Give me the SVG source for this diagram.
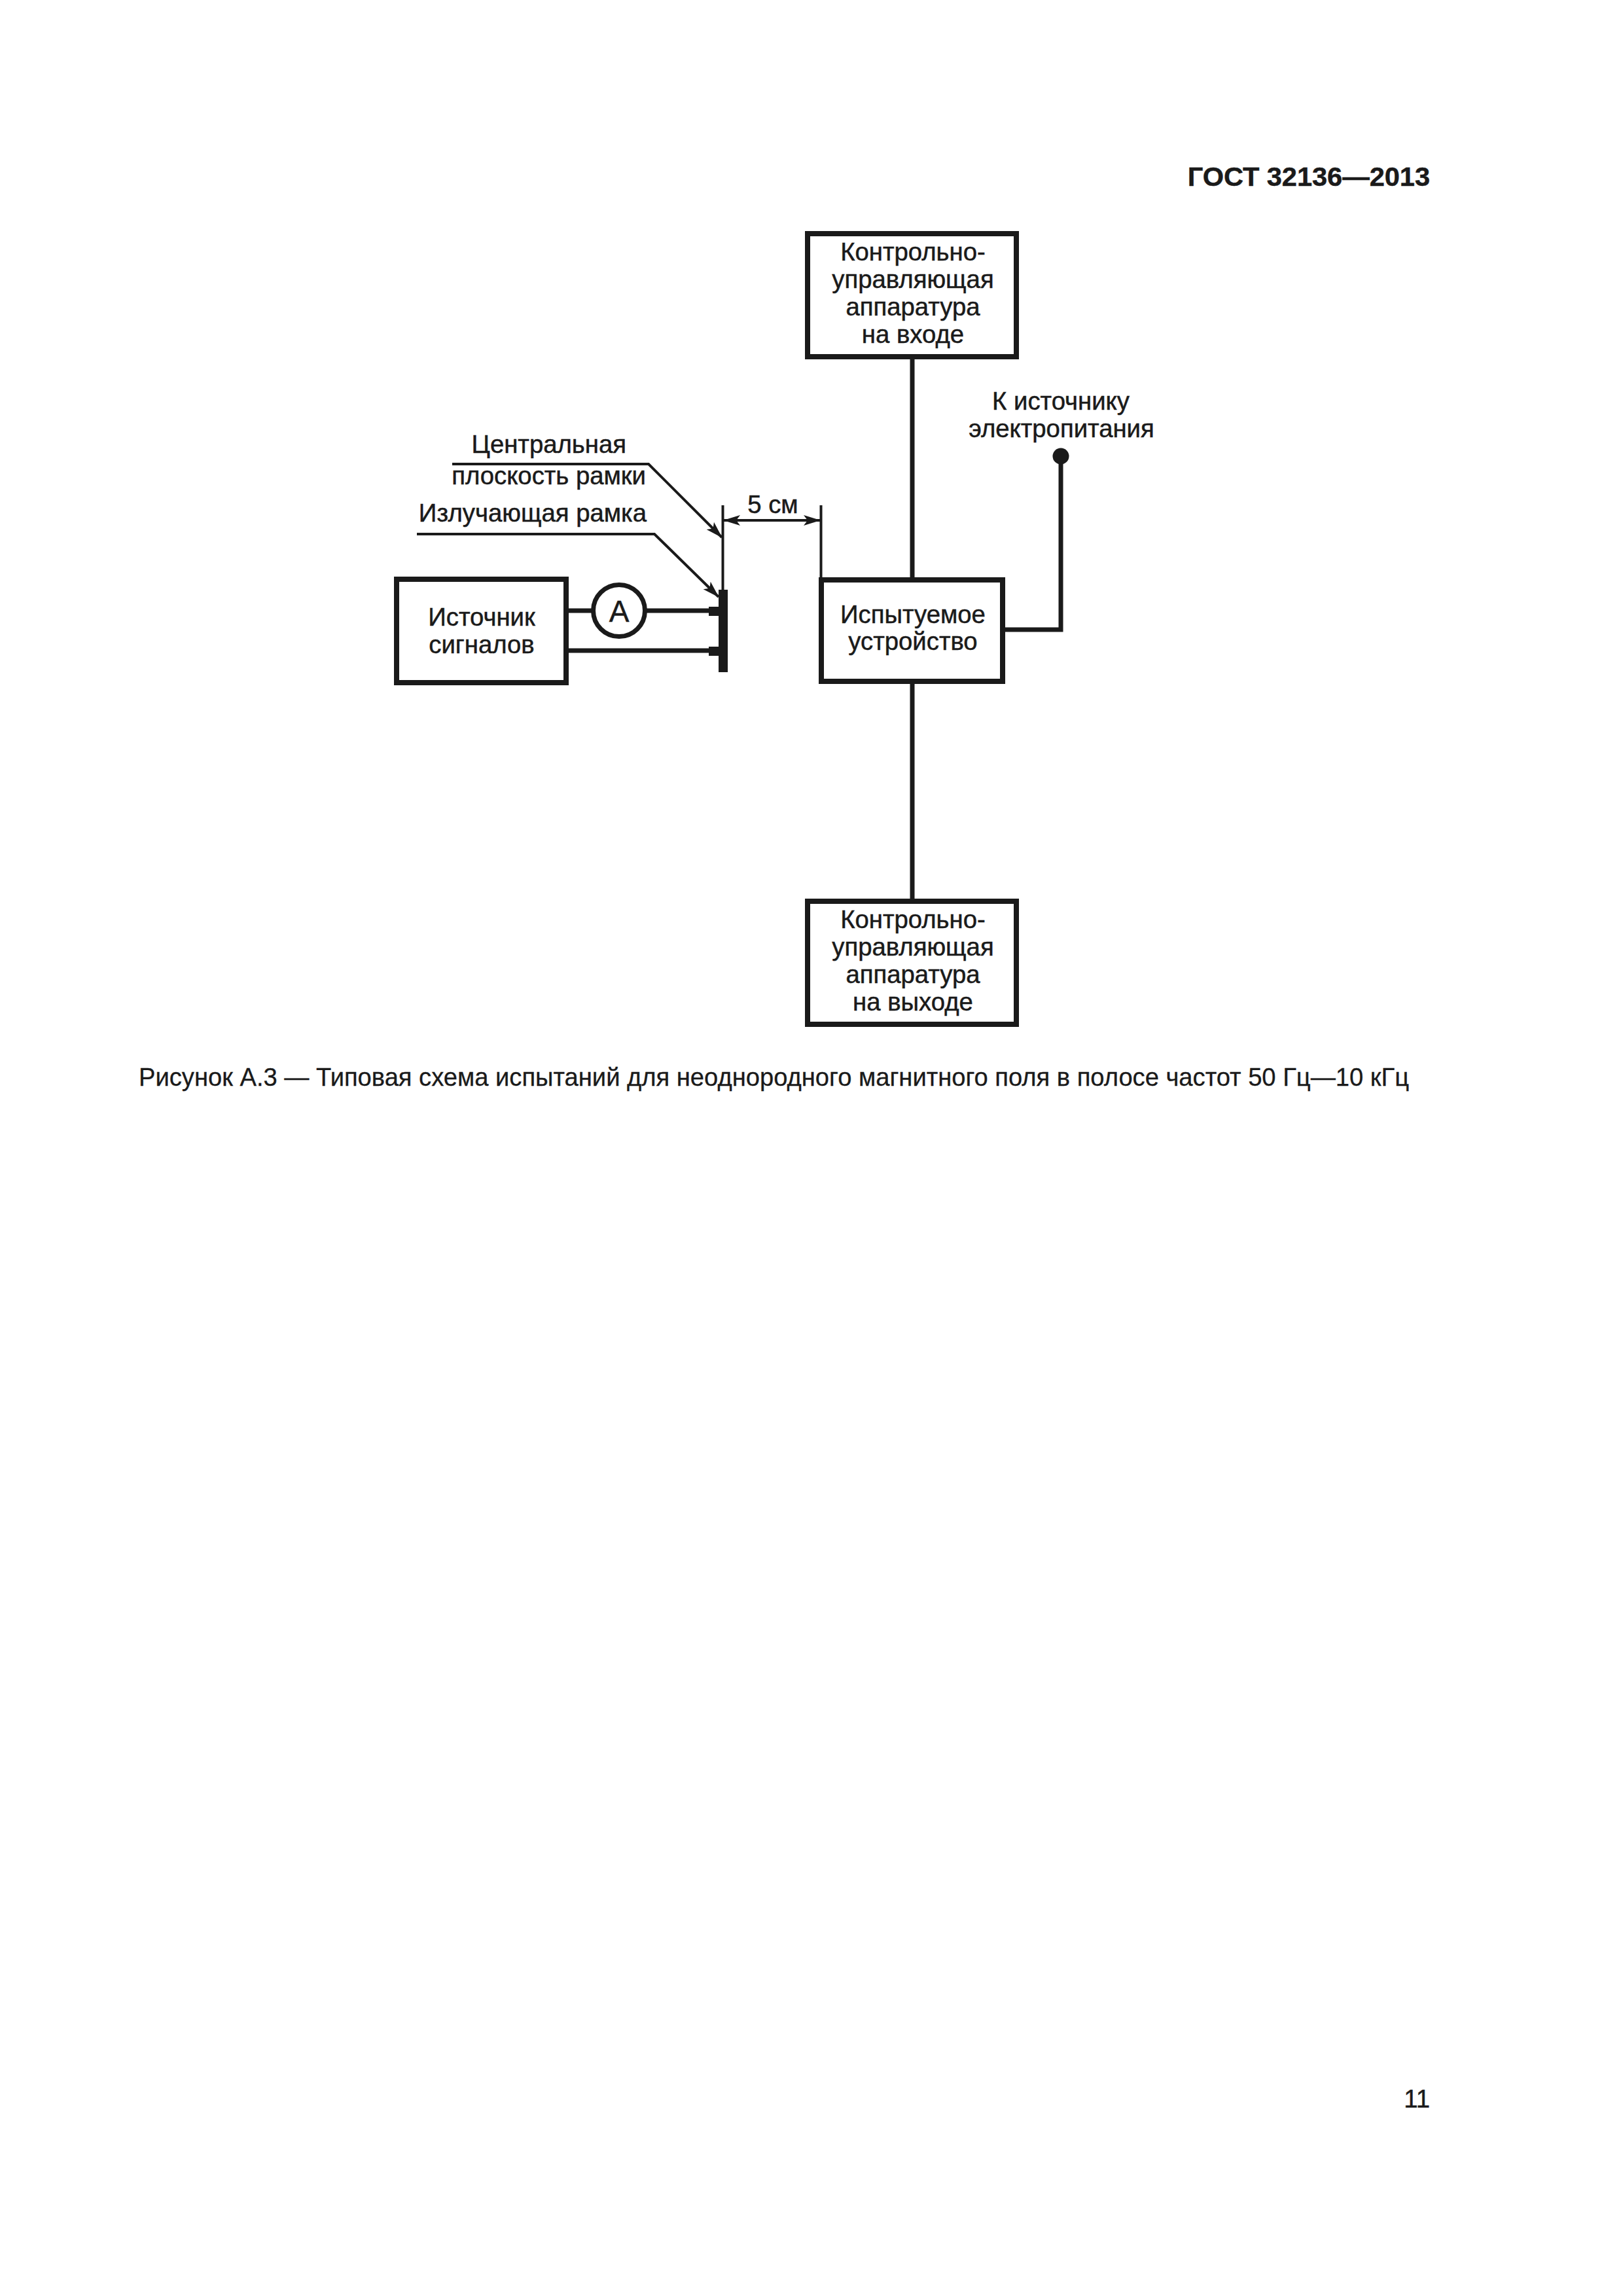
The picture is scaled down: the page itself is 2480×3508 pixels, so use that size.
<svg xmlns="http://www.w3.org/2000/svg" width="2480" height="3508" viewBox="0 0 2480 3508">
<style>
text{font-family:"Liberation Sans",Arial,sans-serif;fill:#1a1a1a;font-size:38.300px;stroke:#1a1a1a;stroke-width:.5}
.c{text-anchor:middle}.e{text-anchor:end}
.box{fill:#fff;stroke:#1a1a1a;stroke-width:8}
.w{fill:none;stroke:#1a1a1a;stroke-width:7}
.t{fill:none;stroke:#1a1a1a;stroke-width:4}
.k{fill:#1a1a1a}
</style>
<defs>
<marker id="a" markerUnits="userSpaceOnUse" markerWidth="26" markerHeight="18" refX="25" refY="9" orient="auto-start-reverse"><path d="M0 1L26 9L0 17L6 9Z" fill="#1a1a1a"/></marker>
</defs>
<rect width="2480" height="3508" fill="#fff"/>
<text x="2185" y="284" class="e" style="font-weight:bold;font-size:41.500px">ГОСТ 32136—2013</text>
<g id="connectors">
<path class="w" d="M1394 549V886M1394 1045V1377M1532 962H1621V697"/>
<path class="w" d="M869 933H1098M869 994H1098"/>
<path class="t" d="M1104.500 772V905M1254.500 772V884"/>
<path class="t" d="M1106 795H1253" marker-start="url(#a)" marker-end="url(#a)"/>
<path class="t" d="M691 709H991L1103 821" marker-end="url(#a)"/>
<path class="t" d="M637 816H1000L1098 912" marker-end="url(#a)"/>
</g>
<g id="source"><rect class="box" x="606" y="885" width="259" height="158"/>
<text x="736" y="956" class="c">Источник</text><text x="736" y="998" class="c">сигналов</text></g>
<g id="ammeter"><circle class="box" cx="946" cy="933" r="39.500" style="stroke-width:7"/><text x="946" y="950" class="c" style="font-size:46px">А</text></g>
<g id="loop"><rect class="k" x="1098" y="901" width="14" height="126"/><rect class="k" x="1083" y="927" width="16" height="14"/><rect class="k" x="1083" y="988" width="16" height="14"/></g>
<g id="dut"><rect class="box" x="1255" y="886" width="277" height="155"/>
<text x="1395" y="952" class="c">Испытуемое</text><text x="1395" y="993" class="c">устройство</text></g>
<g id="ctrl-in"><rect class="box" x="1234" y="357" width="319" height="188"/>
<text x="1395" y="398" class="c">Контрольно-</text><text x="1395" y="440" class="c">управляющая</text><text x="1395" y="482" class="c">аппаратура</text><text x="1395" y="524" class="c">на входе</text></g>
<g id="ctrl-out"><rect class="box" x="1234" y="1377" width="319" height="188"/>
<text x="1395" y="1418" class="c">Контрольно-</text><text x="1395" y="1460" class="c">управляющая</text><text x="1395" y="1502" class="c">аппаратура</text><text x="1395" y="1544" class="c">на выходе</text></g>
<g id="power"><circle class="k" cx="1621" cy="697" r="12.500"/><text x="1621" y="626" class="c">К источнику</text><text x="1622" y="668" class="c">электропитания</text></g>
<text x="957" y="692" class="e">Центральная</text>
<text x="987" y="740" class="e">плоскость рамки</text>
<text x="988" y="797" class="e">Излучающая рамка</text>
<text x="1181" y="784" class="c">5 см</text>
<text x="212" y="1659" style="font-size:38.150px;stroke-width:.3">Рисунок А.3 — Типовая схема испытаний для неоднородного магнитного поля в полосе частот 50 Гц—10 кГц</text>
<text x="2185" y="3220" class="e">11</text>
</svg>
